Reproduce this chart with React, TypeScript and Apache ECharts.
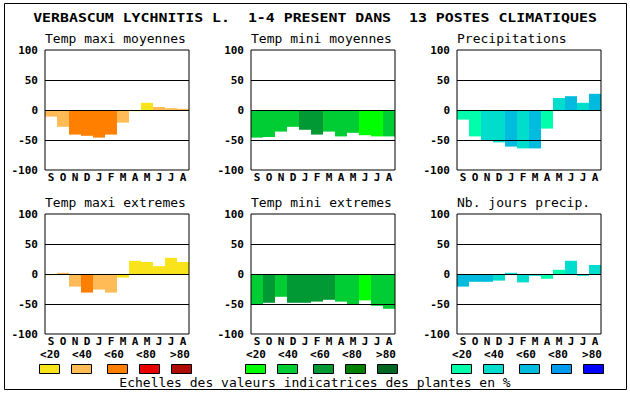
import React, { useEffect, useRef } from "react";
import * as echarts from "echarts";

const months = ["S", "O", "N", "D", "J", "F", "M", "A", "M", "J", "J", "A"];
const yTicks = { min: -100, max: 100, interval: 50 };
const refLines = [50, 0, -50];

const titleText = "VERBASCUM LYCHNITIS L.  1-4 PRESENT DANS  13 POSTES CLIMATIQUES";
const footerText = "Echelles des valeurs indicatrices des plantes en %";
const scaleLabels = ["<20", "<40", "<60", "<80", ">80"];

const panelTitles = [
  "Temp maxi moyennes",
  "Temp mini moyennes",
  "Precipitations",
  "Temp maxi extremes",
  "Temp mini extremes",
  "Nb. jours precip.",
];

// values (%) per month
const tmaxMoy = [-11, -28, -41, -43, -46, -41, -21, -2, 12, 5, 3, 2];
const tminMoy = [-46, -45, -36, -28, -33, -41, -36, -44, -38, -42, -44, -44];
const precip = [-16, -44, -50, -54, -61, -64, -64, -31, 20, 23, 12, 27];
const tmaxExt = [-2, 2, -21, -31, -26, -31, -6, 22, 20, 13, 27, 20];
const tminExt = [-50, -48, -38, -48, -48, -46, -43, -46, -50, -44, -53, -58];
const nbJours = [-21, -13, -13, -11, 2, -14, -3, -8, 7, 22, -3, 15];

// colour class (0:<20 ... 4:>80) per month
const tmaxMoyCls = [1, 1, 2, 2, 2, 2, 1, 0, 0, 1, 1, 1];
const tminMoyCls = [1, 1, 1, 1, 2, 2, 1, 1, 1, 0, 0, 1];
const precipCls = [0, 0, 1, 1, 2, 1, 2, 0, 1, 2, 1, 2];
const tmaxExtCls = [0, 1, 1, 2, 1, 1, 0, 0, 0, 0, 0, 0];
const tminExtCls = [1, 2, 1, 2, 2, 2, 2, 1, 1, 0, 1, 1];
const nbJoursCls = [2, 2, 2, 1, 1, 1, 1, 0, 0, 1, 1, 1];

const orangeScale = ["#F9E31A", "#FFBB55", "#FF8000", "#E80000", "#AE0C00"];
const greenScale = ["#00FF00", "#00CC33", "#009933", "#008000", "#006622"];
const blueScale = ["#00FFAA", "#00DDCC", "#00BBDD", "#0099EE", "#0000FF"];

const FONT = "DejaVu Sans Mono";

export default function App() {
  const ref = useRef<HTMLDivElement>(null);
  useEffect(() => {
    if (!ref.current) return;
    const chart = echarts.init(ref.current, undefined, { renderer: "svg" });

    const panels = [
      { values: tmaxMoy, cls: tmaxMoyCls, scale: orangeScale },
      { values: tminMoy, cls: tminMoyCls, scale: greenScale },
      { values: precip, cls: precipCls, scale: blueScale },
      { values: tmaxExt, cls: tmaxExtCls, scale: orangeScale },
      { values: tminExt, cls: tminExtCls, scale: greenScale },
      { values: nbJours, cls: nbJoursCls, scale: blueScale },
    ];
    const colLeft = [45, 251, 457];
    const rowTop = [50, 214];
    const plotW = 144;
    const plotH = 120;

    const grids: any[] = [];
    const xAxes: any[] = [];
    const yAxes: any[] = [];
    const series: any[] = [];
    const graphics: any[] = [];

    panels.forEach((p, i) => {
      const c = i % 3;
      const r = Math.floor(i / 3);
      grids.push({
        left: colLeft[c],
        top: rowTop[r],
        width: plotW,
        height: plotH,
        show: true,
        borderColor: "#000",
        borderWidth: 1,
        backgroundColor: "transparent",
        z: 10,
      });
      xAxes.push({
        gridIndex: i,
        type: "category",
        data: months,
        axisLine: { show: false, onZero: false },
        axisTick: { show: false },
        splitLine: { show: false },
        axisLabel: {
          interval: 0,
          fontFamily: FONT,
          fontWeight: "bold",
          fontSize: 11,
          color: "#000",
          margin: 2,
        },
      });
      yAxes.push({
        gridIndex: i,
        type: "value",
        min: yTicks.min,
        max: yTicks.max,
        interval: yTicks.interval,
        axisLine: { show: false },
        axisTick: { show: false },
        splitLine: { show: false },
        axisLabel: {
          fontFamily: FONT,
          fontWeight: "bold",
          fontSize: 11,
          color: "#000",
          margin: 7,
        },
      });
      series.push({
        type: "bar",
        xAxisIndex: i,
        yAxisIndex: i,
        barCategoryGap: "0%",
        barWidth: "100%",
        data: p.values.map((v, k) => ({
          value: v,
          itemStyle: { color: p.scale[p.cls[k]] },
        })),
        markLine: {
          silent: true,
          symbol: "none",
          label: { show: false },
          lineStyle: { color: "#000", width: 1, type: "solid" },
          data: refLines.map((y) => ({ yAxis: y })),
        },
      });
      graphics.push({
        type: "text",
        x: colLeft[c],
        y: r === 0 ? 38 : 202,
        style: {
          text: panelTitles[i],
          font: `13px "${FONT}"`,
          fill: "#000",
          textAlign: "left",
          textVerticalAlign: "middle",
        },
      });
    });

    // legend scales
    const legendBase = [39, 245, 451];
    const boxOff = [0, 32, 68, 100, 132];
    const labelOff = [11, 43, 75, 107, 141];
    const scales = [orangeScale, greenScale, blueScale];
    legendBase.forEach((bx, s) => {
      scaleLabels.forEach((lab, k) => {
        graphics.push({
          type: "text",
          x: bx + labelOff[k],
          y: 354,
          style: {
            text: lab,
            font: `bold 11px "${FONT}"`,
            fill: "#000",
            textAlign: "center",
            textVerticalAlign: "middle",
          },
        });
        graphics.push({
          type: "rect",
          shape: { x: bx + boxOff[k] + 0.5, y: 364.5, width: 20, height: 9 },
          style: { fill: scales[s][k], stroke: "#000", lineWidth: 1 },
        });
      });
    });

    graphics.push({
      type: "text",
      x: 315,
      y: 18,
      scaleX: 1.24,
      style: {
        text: titleText,
        font: `bold 12px "${FONT}"`,
        fill: "#000",
        textAlign: "center",
        textVerticalAlign: "middle",
      },
    });
    graphics.push({
      type: "text",
      x: 315,
      y: 382,
      style: {
        text: footerText,
        font: `13px "${FONT}"`,
        fill: "#000",
        textAlign: "center",
        textVerticalAlign: "middle",
      },
    });
    graphics.push({
      type: "rect",
      shape: { x: 4.5, y: 3.5, width: 622, height: 386 },
      style: { fill: "none", stroke: "#000", lineWidth: 1 },
    });

    chart.setOption({
      animation: false,
      backgroundColor: "#fff",
      grid: grids,
      xAxis: xAxes,
      yAxis: yAxes,
      series,
      graphic: graphics,
    });
    return () => chart.dispose();
  }, []);
  return (
    <div
      ref={ref}
      style={{ position: "fixed", left: 0, top: 0, width: 630, height: 394 }}
    />
  );
}
